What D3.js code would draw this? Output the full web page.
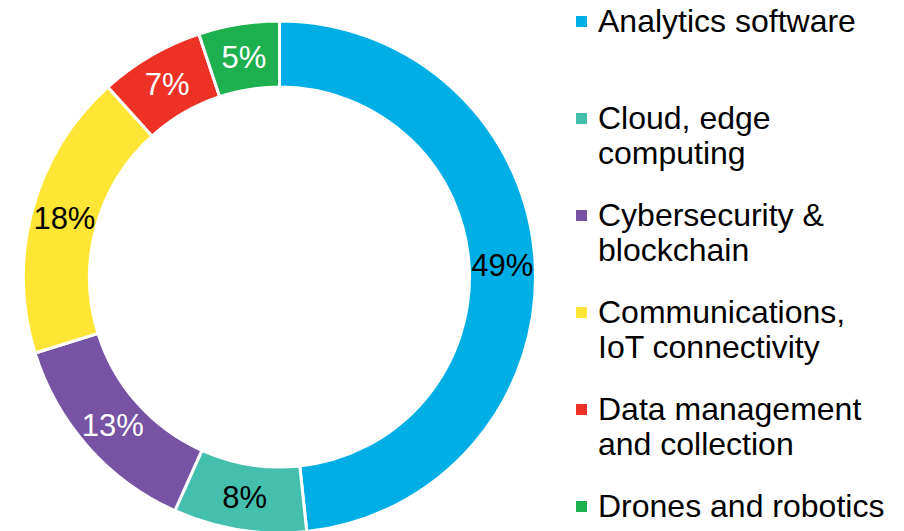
<!DOCTYPE html>
<html>
<head>
<meta charset="utf-8">
<script src="https://cdn.jsdelivr.net/npm/d3@7"></script>
<style>
  body { margin: 0; background: #fff; }
  svg { display: block; font-family: "Liberation Sans", Arial, sans-serif; }
</style>
</head>
<body>
<div class="chartDiv"></div>
<script>

// ---------------- data ----------------
let categories = ["Analytics software", "Cloud, edge computing", "Cybersecurity & blockchain",
                  "Communications, IoT connectivity", "Data management and collection", "Drones and robotics"];
let legendLines = [["Analytics software"], ["Cloud, edge", "computing"], ["Cybersecurity &", "blockchain"],
                   ["Communications,", "IoT connectivity"], ["Data management", "and collection"], ["Drones and robotics"]];
// slice sizes as measured from the ring, printed labels as shown
let shares = [48.3, 8.4, 13.5, 18.1, 6.6, 5.1];
let shareLabels = ["49%", "8%", "13%", "18%", "7%", "5%"];
let colors = ["#00aee6", "#45bfad", "#7653a3", "#ffe636", "#ee3127", "#1eb04f"];
let labelColors = ["#000", "#000", "#fff", "#000", "#fff", "#fff"];

// ---------------- setup ----------------
let width = 904, height = 531;
let cx = 279.5, cy = 277, outerR = 256, innerR = 190;

let svg = d3.select(".chartDiv").append("svg")
    .attr("width", width)
    .attr("height", height);

let data = categories.map((c, i) => ({name: c, value: shares[i], text: shareLabels[i], color: colors[i], label: labelColors[i]}));

let pie = d3.pie().sort(null).value(d => d.value);
let arc = d3.arc().innerRadius(innerR).outerRadius(outerR);

let donut = svg.append("g")
    .attr("transform", "translate(" + cx + "," + cy + ")");

let arcs = pie(data);

donut.selectAll("path")
    .data(arcs)
  .enter().append("path")
    .attr("d", arc)
    .attr("fill", d => d.data.color)
    .attr("stroke", "#fff")
    .attr("stroke-width", 3);

donut.selectAll("text")
    .data(arcs)
  .enter().append("text")
    .attr("transform", d => "translate(" + arc.centroid(d) + ")")
    .attr("text-anchor", "middle")
    .attr("dy", "0.35em")
    .style("font-size", "31px")
    .attr("fill", d => d.data.label)
    .text(d => d.data.text);

// ---------------- legend ----------------
let legendY = d3.scaleLinear().domain([0, 5]).range([32, 517]);

let legend = svg.append("g");

let item = legend.selectAll("g")
    .data(data)
  .enter().append("g")
    .attr("transform", (d, i) => "translate(0," + legendY(i) + ")");

item.append("rect")
    .attr("x", 576)
    .attr("y", -16)
    .attr("width", 11)
    .attr("height", 11)
    .attr("fill", d => d.color);

item.append("text")
    .attr("x", 598)
    .style("font-size", "32px")
    .attr("fill", "#000")
    .selectAll("tspan")
    .data((d, i) => legendLines[i])
  .enter().append("tspan")
    .attr("x", 598)
    .attr("y", (d, j) => j * 35)
    .text(d => d);

</script>
</body>
</html>
